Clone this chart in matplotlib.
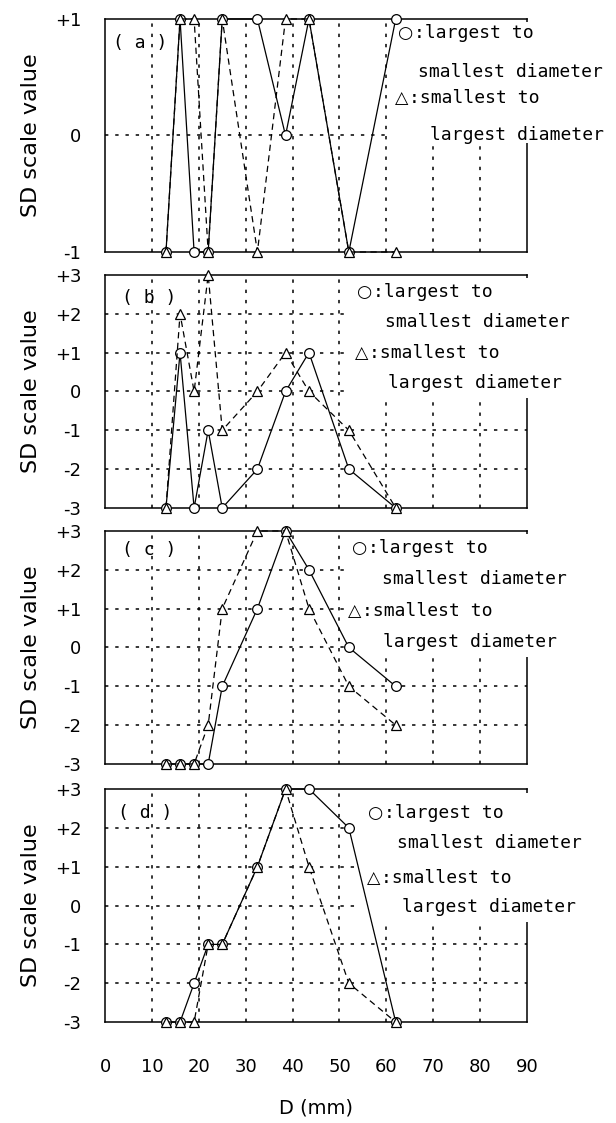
import matplotlib as mpl
mpl.use("Agg")
import matplotlib.pyplot as plt
from matplotlib.patches import Rectangle

# diameter classes (mm) shared by all panels
D = [13, 16, 19, 22, 25, 32.5, 38.5, 43.5, 52, 62]

# circles: largest to smallest diameter, triangles: smallest to largest
circ_a = [-1, 1, -1, -1, 1, 1, 0, 1, -1, 1]
tri_a = [-1, 1, 1, -1, 1, -1, 1, 1, -1, -1]
circ_b = [-3, 1, -3, -1, -3, -2, 0, 1, -2, -3]
tri_b = [-3, 2, 0, 3, -1, 0, 1, 0, -1, -3]
circ_c = [-3, -3, -3, -3, -1, 1, 3, 2, 0, -1]
tri_c = [-3, -3, -3, -2, 1, 3, 3, 1, -1, -2]
circ_d = [-3, -3, -2, -1, -1, 1, 3, 3, 2, -3]
tri_d = [-3, -3, -3, -1, -1, 1, 3, 1, -2, -3]

panel_names = ["( a )", "( b )", "( c )", "( d )"]
yticks_a = [-1, 0, 1]
yticklabels_a = ["-1", "0", "+1"]
yticks_b = [-3, -2, -1, 0, 1, 2, 3]
yticklabels_b = ["-3", "-2", "-1", "0", "+1", "+2", "+3"]
xticks = [0, 10, 20, 30, 40, 50, 60, 70, 80, 90]

# legend: (symbol, text) per line
leg_lines = [("\u25cb", ":largest to"), ("", "smallest diameter"),
             ("\u25b3", ":smallest to"), ("", "largest diameter")]

# layout, figure fractions
left, width, height = 0.1705, 0.685, 0.2075
bottoms = [0.7756, 0.5477, 0.3197, 0.0899]
# legend text positions (axes fraction) per panel
leg_pos = [
    [(0.694, 0.940), (0.742, 0.773), (0.687, 0.661), (0.770, 0.502)],
    [(0.597, 0.927), (0.664, 0.798), (0.592, 0.665), (0.671, 0.536)],
    [(0.585, 0.927), (0.656, 0.794), (0.576, 0.657), (0.659, 0.524)],
    [(0.623, 0.897), (0.692, 0.768), (0.621, 0.618), (0.704, 0.494)],
]
label_pos = [(0.019, 0.897), (0.040, 0.901), (0.040, 0.918), (0.031, 0.897)]
# white patch behind legend text (x0, y0)
box = [(0.675, 0.468), (0.578, 0.472), (0.566, 0.459), (0.592, 0.43)]

series = [(circ_a, tri_a), (circ_b, tri_b), (circ_c, tri_c), (circ_d, tri_d)]
mono = ["DejaVu Sans Mono", "DejaVu Sans"]

fig = plt.figure(figsize=(6.16, 11.23), dpi=100)
renderer = fig.canvas.get_renderer()

for i in range(4):
    ax = fig.add_axes([left, bottoms[i], width, height])
    circ, tri = series[i]
    if i == 0:
        ax.set_ylim(-1, 1)
        ax.set_yticks(yticks_a)
        ax.set_yticklabels(yticklabels_a)
        hgrid = [0]
    else:
        ax.set_ylim(-3, 3)
        ax.set_yticks(yticks_b)
        ax.set_yticklabels(yticklabels_b)
        hgrid = [-2, -1, 0, 1, 2]
    ax.set_xlim(0, 90)
    ax.set_xticks(xticks)
    ax.tick_params(length=0, labelsize=13)
    ax.tick_params(axis="y", pad=17)
    ax.tick_params(axis="x", pad=26)
    if i < 3:
        ax.set_xticklabels([])
    for s in ax.spines.values():
        s.set_linewidth(1.1)

    for g in range(10, 90, 10):
        ax.axvline(g, color="black", lw=1.1, linestyle=(0, (2.2, 4.5)), zorder=1)
    for g in hgrid:
        ax.axhline(g, color="black", lw=1.1, linestyle=(0, (2.2, 4.5)), zorder=1)

    x0, y0 = box[i]
    ax.add_patch(Rectangle((x0, y0), 1.5, 0.985 - y0, transform=ax.transAxes,
                           facecolor="white", edgecolor="none",
                           clip_on=False, zorder=2.6))

    ax.plot(D, circ, color="black", lw=0.9, marker="o", markersize=7,
            markerfacecolor="white", markeredgecolor="black",
            markeredgewidth=0.9, clip_on=False, zorder=3)
    ax.plot(D, tri, color="black", lw=0.9, dashes=(5, 3.5), marker="^",
            markersize=7, markerfacecolor="white", markeredgecolor="black",
            markeredgewidth=0.9, clip_on=False, zorder=3.1)

    for (sym, txt), (tx, ty) in zip(leg_lines, leg_pos[i]):
        if sym:
            st = ax.text(tx, ty, sym, transform=ax.transAxes, fontsize=12.5,
                         family="DejaVu Sans", ha="left", va="center", zorder=4)
            bb = st.get_window_extent(renderer)
            tx = ax.transAxes.inverted().transform((bb.x1 + 1, bb.y0))[0]
        ax.text(tx, ty, txt, transform=ax.transAxes, fontsize=13,
                family=mono, ha="left", va="center", zorder=4)
    ax.text(label_pos[i][0], label_pos[i][1], panel_names[i],
            transform=ax.transAxes, fontsize=13, family=mono,
            ha="left", va="center", zorder=4)

    ax.set_ylabel("SD scale value", fontsize=16, labelpad=10)
    if i == 3:
        ax.set_xlabel("D (mm)", fontsize=14, labelpad=16)

fig.savefig("out.png", dpi=100)
